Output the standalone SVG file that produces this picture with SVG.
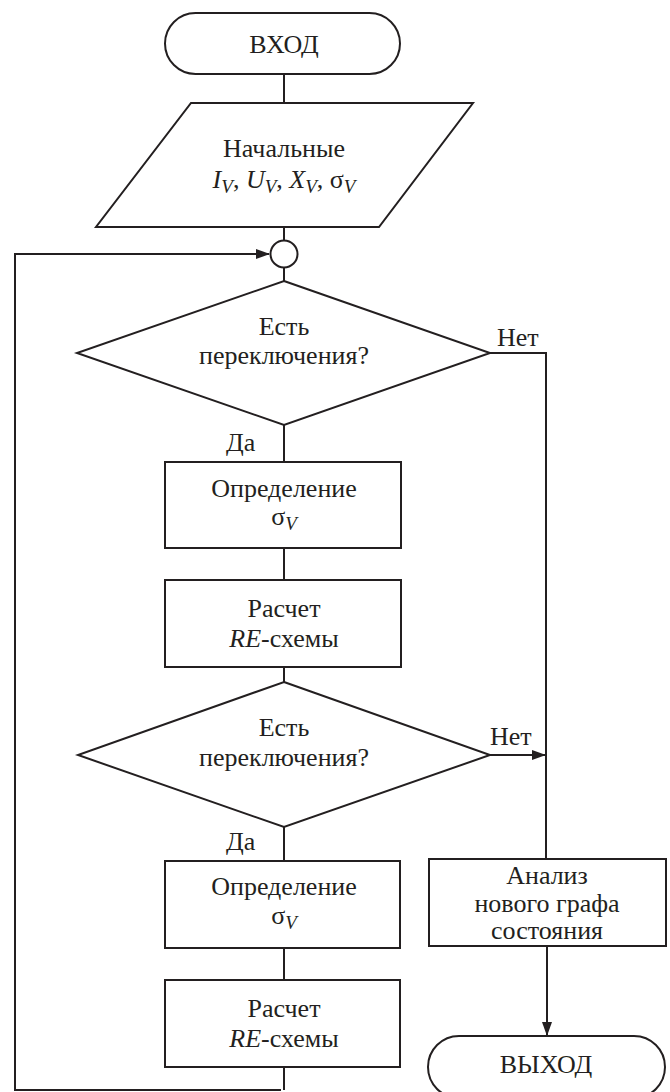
<svg xmlns="http://www.w3.org/2000/svg" width="670" height="1092" viewBox="0 0 670 1092">
<style>
.s{fill:#fff;stroke:#231f20;stroke-width:2}
.c{fill:none;stroke:#231f20;stroke-width:2}
.t{font-family:"Liberation Serif","Times New Roman",serif;font-size:26px;fill:#231f20;text-anchor:middle}
.l{font-family:"Liberation Serif","Times New Roman",serif;font-size:26px;fill:#231f20}
.i{font-style:italic}
.sub{font-style:italic;font-size:19px}
</style>
<defs>
<marker id="ah" markerWidth="14" markerHeight="10" refX="13" refY="5" orient="auto" markerUnits="userSpaceOnUse">
<path d="M0,0 L14,5 L0,10 Z" fill="#231f20"/>
</marker>
</defs>
<rect width="670" height="1092" fill="#fff"/>
<g id="connectors">
<line class="c" x1="284" y1="74" x2="284" y2="103"/>
<line class="c" x1="284" y1="227" x2="284" y2="240"/>
<line class="c" x1="284" y1="267" x2="284" y2="281"/>
<line class="c" x1="284" y1="425" x2="284" y2="462"/>
<line class="c" x1="284" y1="548" x2="284" y2="580"/>
<line class="c" x1="284" y1="667" x2="284" y2="682"/>
<line class="c" x1="284" y1="827" x2="284" y2="861"/>
<line class="c" x1="284" y1="948" x2="284" y2="980"/>
<path class="c" d="M284,1067 V1090 M281,1090 H15 V254 H269" marker-end="url(#ah)"/>
<path class="c" d="M490,353 H546 V859"/>
<path class="c" d="M490,755 H545" marker-end="url(#ah)"/>
<path class="c" d="M547,946 V1035" marker-end="url(#ah)"/>
</g>
<g id="start">
<rect class="s" x="165" y="13" width="235" height="61" rx="30.5"/>
<text class="t" x="284" y="53">ВХОД</text>
</g>
<g id="input">
<polygon class="s" points="191,103 473,103 379,227 96,227"/>
<text class="t" x="284" y="157">Начальные</text>
<text class="t" x="284" y="188"><tspan class="i">I</tspan><tspan class="sub" dy="5">V</tspan><tspan dy="-5">, </tspan><tspan class="i">U</tspan><tspan class="sub" dy="5">V</tspan><tspan dy="-5">, </tspan><tspan class="i">X</tspan><tspan class="sub" dy="5">V</tspan><tspan dy="-5">, σ</tspan><tspan class="sub" dy="5">V</tspan></text>
</g>
<g id="junction">
<circle class="s" cx="284" cy="254" r="13.5"/>
</g>
<g id="decision1">
<polygon class="s" points="284,281 490,353 284,425 77,353"/>
<text class="t" x="284" y="335">Есть</text>
<text class="t" x="284" y="364">переключения?</text>
<text class="l" x="497" y="346">Нет</text>
<text class="l" x="226" y="451">Да</text>
</g>
<g id="sigma1">
<rect class="s" x="165" y="462" width="236" height="86"/>
<text class="t" x="284" y="497">Определение</text>
<text class="t" x="284" y="525">σ<tspan class="sub" dy="5">V</tspan></text>
</g>
<g id="calc1">
<rect class="s" x="165" y="580" width="236" height="87"/>
<text class="t" x="284" y="617">Расчет</text>
<text class="t" x="284" y="647"><tspan class="i">RE</tspan>-схемы</text>
</g>
<g id="decision2">
<polygon class="s" points="284,682 490,755 284,827 78,755"/>
<text class="t" x="284" y="736">Есть</text>
<text class="t" x="284" y="766">переключения?</text>
<text class="l" x="490" y="745">Нет</text>
<text class="l" x="226" y="850">Да</text>
</g>
<g id="sigma2">
<rect class="s" x="165" y="861" width="235" height="87"/>
<text class="t" x="284" y="895">Определение</text>
<text class="t" x="284" y="924">σ<tspan class="sub" dy="5">V</tspan></text>
</g>
<g id="calc2">
<rect class="s" x="165" y="980" width="235" height="87"/>
<text class="t" x="284" y="1017">Расчет</text>
<text class="t" x="284" y="1047"><tspan class="i">RE</tspan>-схемы</text>
</g>
<g id="analysis">
<rect class="s" x="429" y="859" width="237" height="87"/>
<text class="t" x="547" y="884">Анализ</text>
<text class="t" x="547" y="912">нового графа</text>
<text class="t" x="547" y="939">состояния</text>
</g>
<g id="end">
<rect class="s" x="428" y="1036" width="237" height="62" rx="31"/>
<text class="t" x="546" y="1073">ВЫХОД</text>
</g>
</svg>
